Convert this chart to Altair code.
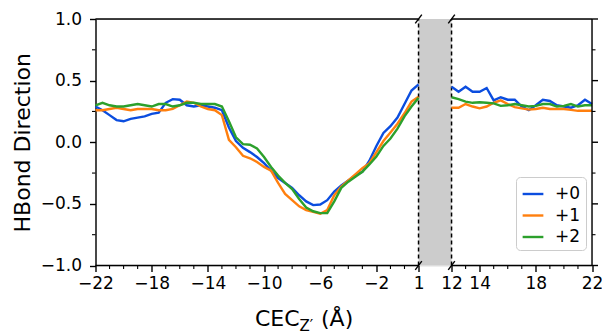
import altair as alt
import pandas as pd

# ---- sampled positions (Å) -------------------------------------------------
x_left = [v / 2 for v in range(-44, 3)]      # -22 ... 1
x_right = [v / 2 for v in range(24, 45)]     # 12 ... 22

# ---- HBond direction per shift ---------------------------------------------
p0_left = [0.29, 0.26, 0.22, 0.18, 0.17, 0.19, 0.20, 0.21, 0.23, 0.24,
           0.32, 0.35, 0.345, 0.30, 0.29, 0.30, 0.29, 0.28, 0.26, 0.12,
           0.01, -0.045, -0.08, -0.12, -0.17, -0.23, -0.29, -0.33, -0.37, -0.43,
           -0.48, -0.51, -0.505, -0.47, -0.40, -0.35, -0.31, -0.27, -0.24, -0.15,
           -0.03, 0.075, 0.13, 0.20, 0.31, 0.42, 0.47]
p1_left = [0.26, 0.26, 0.27, 0.28, 0.27, 0.26, 0.27, 0.27, 0.27, 0.26,
           0.26, 0.27, 0.30, 0.33, 0.32, 0.29, 0.27, 0.26, 0.22, 0.02,
           -0.04, -0.11, -0.13, -0.16, -0.20, -0.23, -0.33, -0.42, -0.47, -0.52,
           -0.55, -0.565, -0.58, -0.55, -0.43, -0.36, -0.31, -0.26, -0.21, -0.17,
           -0.08, 0.01, 0.08, 0.15, 0.235, 0.33, 0.37]
p2_left = [0.30, 0.32, 0.30, 0.29, 0.29, 0.30, 0.31, 0.30, 0.29, 0.31,
           0.31, 0.29, 0.30, 0.32, 0.32, 0.31, 0.31, 0.31, 0.29, 0.17,
           0.04, -0.015, -0.02, -0.05, -0.12, -0.20, -0.27, -0.33, -0.38, -0.46,
           -0.53, -0.56, -0.575, -0.575, -0.48, -0.37, -0.32, -0.28, -0.24, -0.18,
           -0.115, -0.03, 0.03, 0.11, 0.21, 0.29, 0.36]

p0_right = [0.45, 0.41, 0.45, 0.41, 0.41, 0.44, 0.34, 0.365, 0.345, 0.345,
            0.29, 0.26, 0.30, 0.345, 0.335, 0.30, 0.29, 0.28, 0.30, 0.345, 0.31]
p1_right = [0.28, 0.28, 0.31, 0.29, 0.275, 0.29, 0.32, 0.34, 0.31, 0.285,
            0.275, 0.265, 0.27, 0.28, 0.27, 0.27, 0.27, 0.263, 0.255, 0.255, 0.255]
p2_right = [0.365, 0.35, 0.33, 0.32, 0.325, 0.32, 0.315, 0.295, 0.30, 0.31,
            0.30, 0.29, 0.295, 0.31, 0.31, 0.29, 0.295, 0.31, 0.29, 0.30, 0.30]

series_names = ["+0", "+1", "+2"]
series_colors = ["#0b4ddf", "#ff7f0e", "#2ca02c"]

# ---- axis ticks ------------------------------------------------------------
x_major_left = [-22, -18, -14, -10, -6, -2, 1]
x_major_right = [12, 14, 18, 22]
x_minor_left = [-21, -20, -19, -17, -16, -15, -13, -12, -11, -9, -8, -7,
                -5, -4, -3, -1, 0]
x_minor_right = [13, 15, 16, 17, 19, 20, 21]
y_major = [-1.0, -0.5, 0.0, 0.5, 1.0]
y_minor = [-0.75, -0.25, 0.25, 0.75]

# ---- broken x axis: the right panel is shifted next to the left one --------
BREAK_LO, BREAK_HI = 1, 12
GAP = 2.35                      # width of the shaded break, in Å of the axis
SHIFT = BREAK_HI - BREAK_LO - GAP
X_MIN = -22
X_MAX = 22 - SHIFT
GAP_HI = BREAK_LO + GAP

W, H = 496.5, 246.5
FONT = "DejaVu Sans"

xs = alt.Scale(domain=[X_MIN, X_MAX], nice=False, zero=False)
ys = alt.Scale(domain=[-1, 1], nice=False, zero=False)

rows = []
for name, left, right in zip(series_names,
                             [p0_left, p1_left, p2_left],
                             [p0_right, p1_right, p2_right]):
    for x, y in zip(x_left, left):
        rows.append({"x": x, "y": y, "series": name, "seg": name + "L"})
    for x, y in zip(x_right, right):
        rows.append({"x": x - SHIFT, "y": y, "series": name, "seg": name + "R"})
df = pd.DataFrame(rows)

# shaded break band and its dashed edges
band = alt.Chart(pd.DataFrame({"x": [BREAK_LO], "x2": [GAP_HI], "y": [-1], "y2": [1]})).mark_rect(
    color="#cccccc"
).encode(
    x=alt.X("x:Q", scale=xs, axis=None), x2="x2:Q",
    y=alt.Y("y:Q", scale=ys, axis=None), y2="y2:Q",
)
edges = alt.Chart(pd.DataFrame({"x": [BREAK_LO, GAP_HI], "y": [-1, -1], "y2": [1, 1]})).mark_rule(
    color="black", strokeWidth=1.5, strokeDash=[4, 3]
).encode(
    x=alt.X("x:Q", scale=xs, axis=None),
    y=alt.Y("y:Q", scale=ys, axis=None), y2="y2:Q",
)

x_tick_values = x_major_left + [v - SHIFT for v in x_major_right]
label_expr = (f"format(datum.value > {BREAK_LO + 0.5} ? datum.value + {SHIFT} : datum.value, 'd')")

lines = alt.Chart(df).mark_line(strokeWidth=2.4).encode(
    x=alt.X("x:Q", scale=xs, axis=alt.Axis(
        values=x_tick_values, labelExpr=label_expr, domain=False, grid=False,
        ticks=True, tickSize=6, tickWidth=1.4, tickColor="black",
        labelFont=FONT, labelFontSize=17, labelColor="black", labelPadding=4,
        labelOverlap=False, labelFlush=False, title=None, orient="bottom")),
    y=alt.Y("y:Q", scale=ys, axis=alt.Axis(
        values=y_major, format=".1f", domain=True, domainColor="black",
        domainWidth=1.4, grid=False, tickSize=6, tickWidth=1.4, tickColor="black",
        labelFont=FONT, labelFontSize=17, labelColor="black", labelPadding=8,
        labelFlush=False, labelOverlap=False, orient="left",
        title="HBond Direction", titleFont=FONT, titleFontSize=22,
        titleFontWeight="normal", titleColor="black", titlePadding=6)),
    color=alt.Color("series:N", scale=alt.Scale(domain=series_names, range=series_colors),
                    legend=alt.Legend(
                        title=None, orient="none", legendX=420.5, legendY=158,
                        symbolType="stroke", symbolSize=430, symbolStrokeWidth=2.4,
                        labelFont=FONT, labelFontSize=17, labelColor="black",
                        labelOffset=10, padding=5, rowPadding=1.5,
                        strokeColor="#cccccc", fillColor="white", cornerRadius=4)),
    detail="seg:N",
)

# spines: broken top / bottom, left and right
spine_df = pd.DataFrame({
    "x": [X_MIN, GAP_HI, X_MIN, GAP_HI, X_MAX],
    "x2": [BREAK_LO, X_MAX, BREAK_LO, X_MAX, X_MAX],
    "y": [1, 1, -1, -1, -1],
    "y2": [1, 1, -1, -1, 1],
})
spines = alt.Chart(spine_df).mark_rule(color="black", strokeWidth=1.4).encode(
    x=alt.X("x:Q", scale=xs, axis=None), x2="x2:Q",
    y=alt.Y("y:Q", scale=ys, axis=None), y2="y2:Q",
)

# break marks: short diagonals where the axis is cut
DX, DY = 0.235, 0.036
brk_rows = []
for bx in [BREAK_LO, GAP_HI]:
    for by in [-1, 1]:
        brk_rows.append({"x": bx - DX, "x2": bx + DX, "y": by - DY, "y2": by + DY})
breaks = alt.Chart(pd.DataFrame(brk_rows)).mark_rule(color="black", strokeWidth=1.4).encode(
    x=alt.X("x:Q", scale=xs, axis=None), x2="x2:Q",
    y=alt.Y("y:Q", scale=ys, axis=None), y2="y2:Q",
)

# minor ticks on the bottom axis
x_minor = x_minor_left + [v - SHIFT for v in x_minor_right]
minor_x = alt.Chart(pd.DataFrame({"x": x_minor})).mark_rule(color="black", strokeWidth=1.1).encode(
    x=alt.X("x:Q", scale=xs, axis=None),
    y=alt.value(H), y2=alt.value(H + 3.5),
)
# minor ticks on the left axis
minor_y = alt.Chart(pd.DataFrame({"y": y_minor})).mark_rule(color="black", strokeWidth=1.1).encode(
    y=alt.Y("y:Q", scale=ys, axis=None),
    x=alt.value(-3.5), x2=alt.value(0),
)
# right axis ticks (no labels)
right_major = alt.Chart(pd.DataFrame({"y": y_major})).mark_rule(color="black", strokeWidth=1.4).encode(
    y=alt.Y("y:Q", scale=ys, axis=None),
    x=alt.value(W), x2=alt.value(W + 6),
)
right_minor = alt.Chart(pd.DataFrame({"y": y_minor})).mark_rule(color="black", strokeWidth=1.1).encode(
    y=alt.Y("y:Q", scale=ys, axis=None),
    x=alt.value(W), x2=alt.value(W + 3.5),
)

# x axis title with a subscript
def title_part(text, x, y, size):
    return alt.Chart(pd.DataFrame({"t": [text]})).mark_text(
        font=FONT, fontSize=size, color="black", align="left", baseline="alphabetic"
    ).encode(text="t:N", x=alt.value(x), y=alt.value(y))

xtitle = (title_part("CEC", 159.5, 307, 22)
          + title_part("Z\u2032", 204, 312, 15)
          + title_part("(Å)", 225.5, 307, 22))

chart = alt.layer(
    band, edges, lines, spines, breaks, minor_x, minor_y, right_major, right_minor, xtitle
).resolve_axis(
    x="independent", y="independent"
).properties(
    width=W, height=H,
    padding={"left": 95.5, "top": 19, "right": 10, "bottom": 70},
    autosize=alt.AutoSizeParams(type="none"),
).configure_view(stroke=None).configure(background="white")

chart.save("out.html", embed_options={"renderer": "svg", "actions": False})
